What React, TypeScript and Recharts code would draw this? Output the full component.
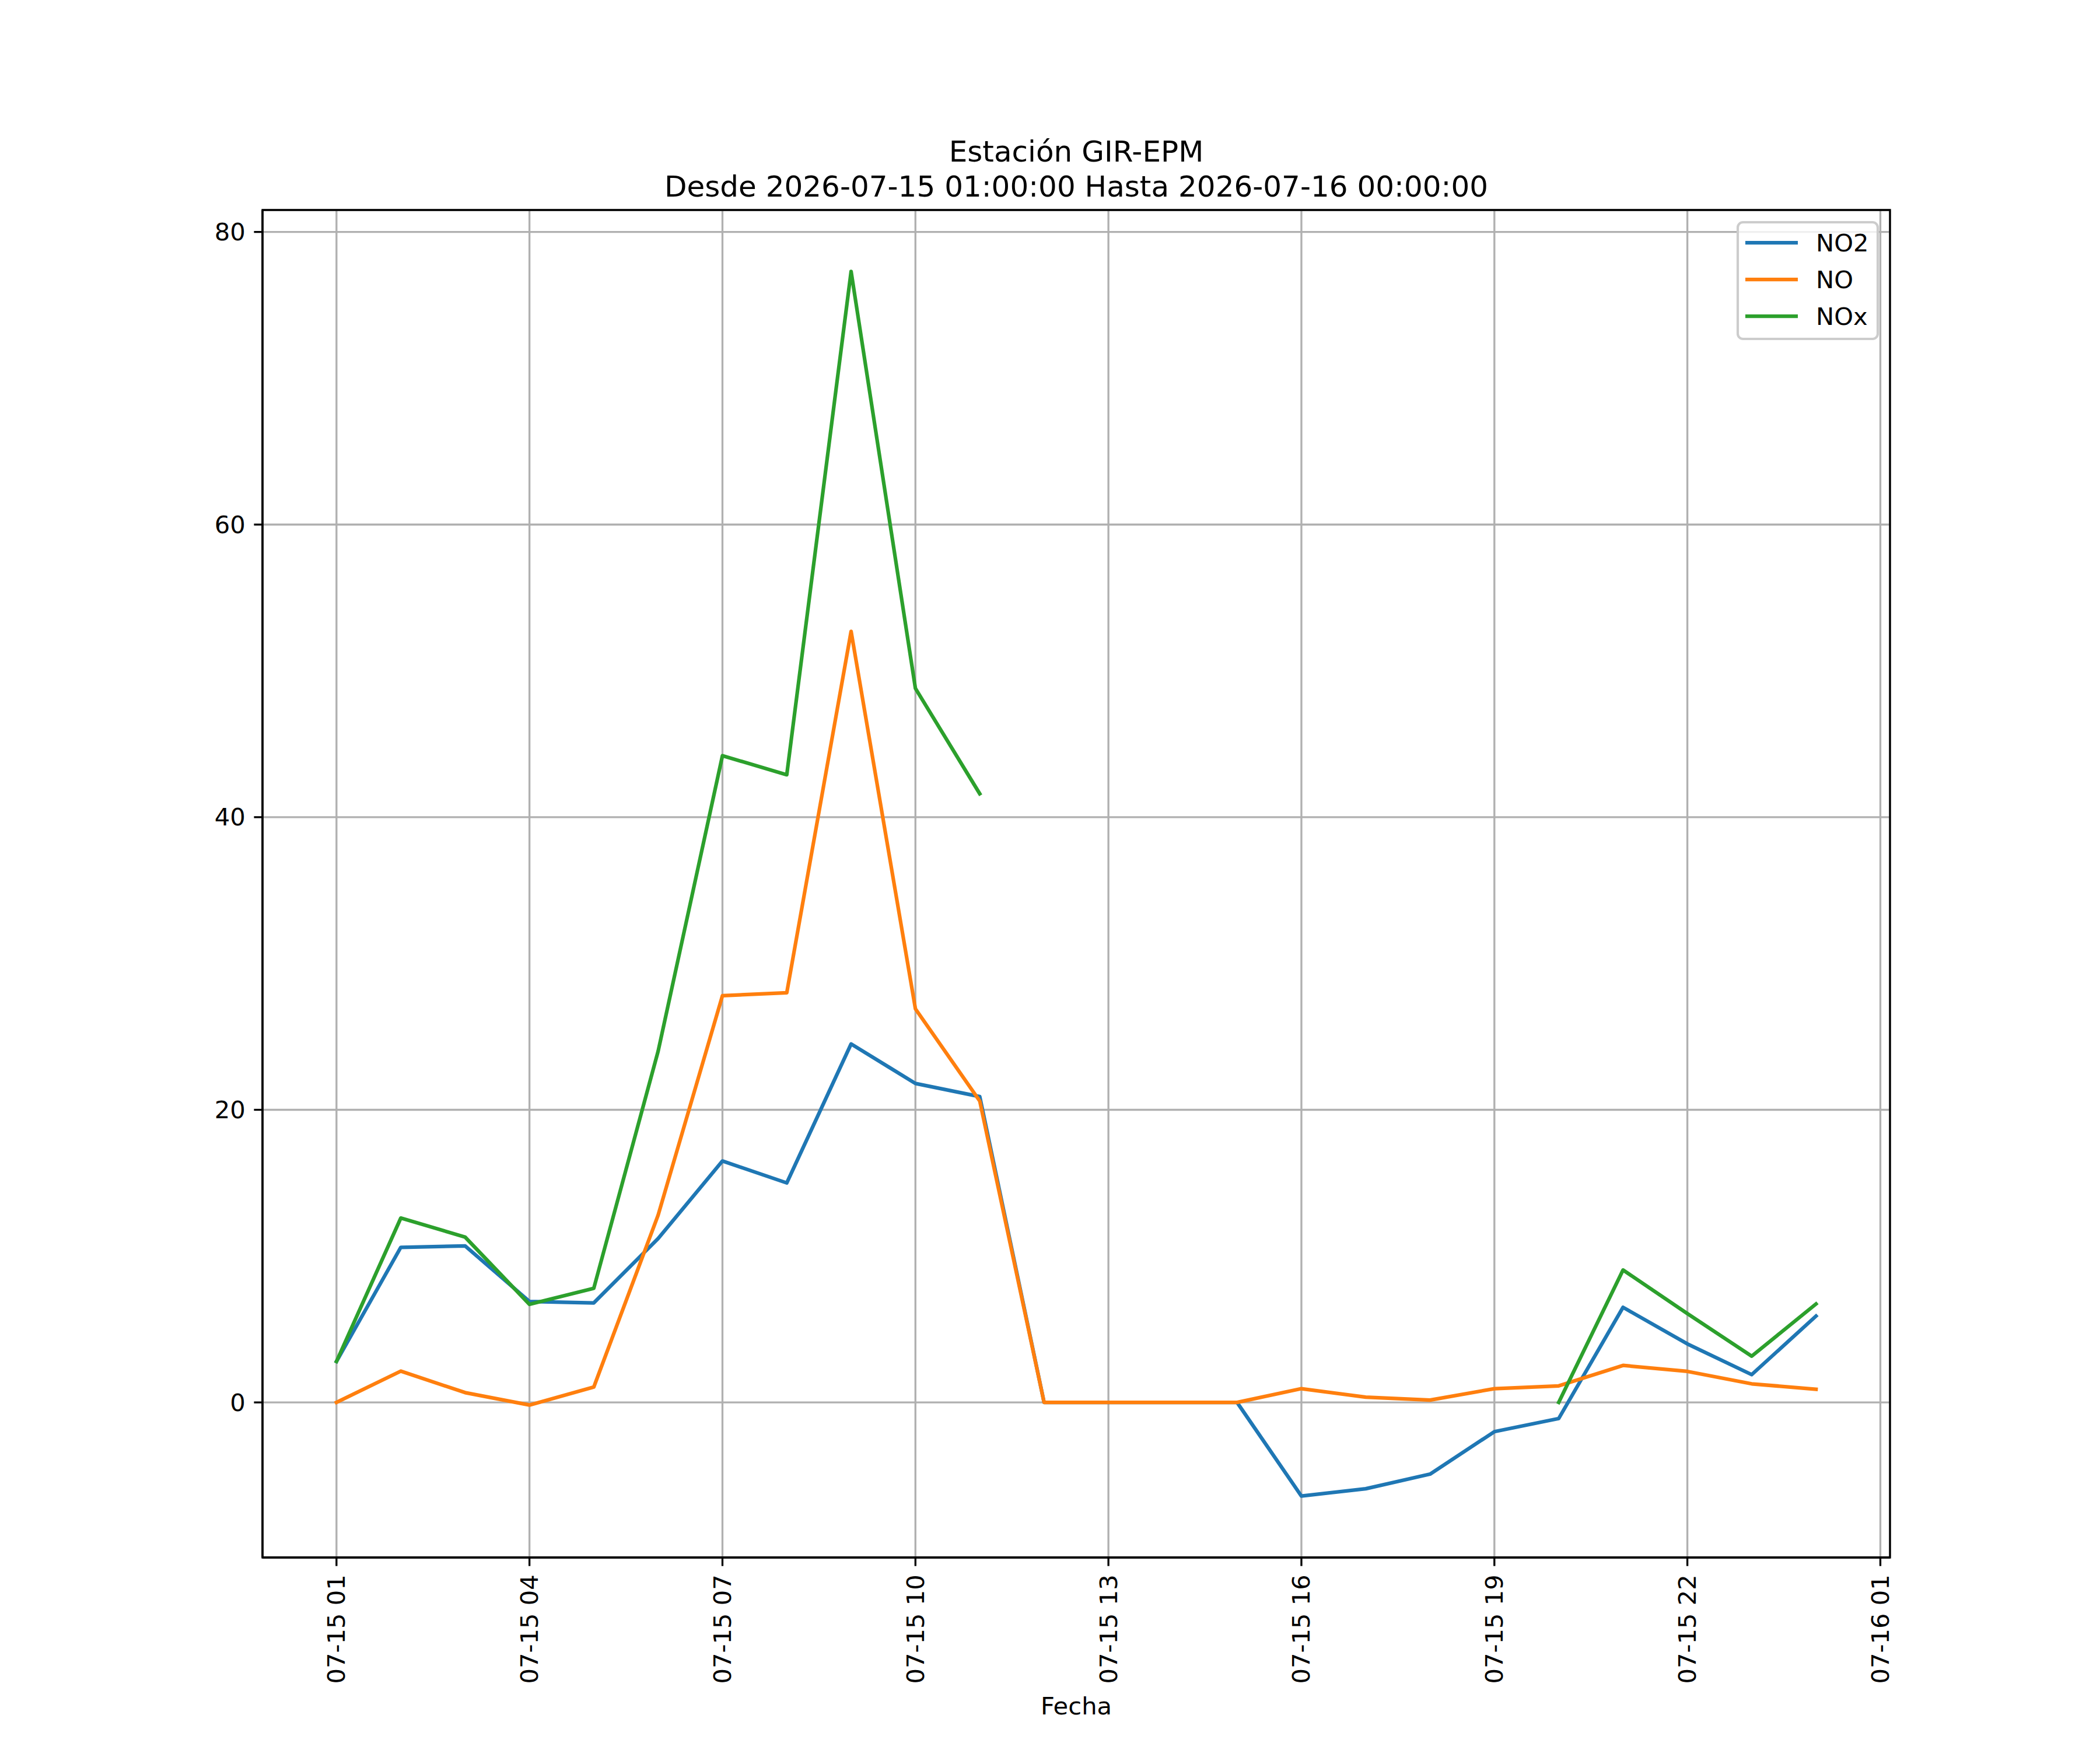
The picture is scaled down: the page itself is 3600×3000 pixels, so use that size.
import React from 'react';
import { LineChart, Line, XAxis, YAxis, CartesianGrid, ReferenceArea } from 'recharts';

// Hours after 2026-07-15 01:00
const hours = [0, 1, 2, 3, 4, 5, 6, 7, 8, 9, 10, 11, 12, 13, 14, 15, 16, 17, 18, 19, 20, 21, 22, 23];
const no2 = [2.8, 10.6, 10.7, 6.9, 6.8, 11.2, 16.5, 15.0, 24.5, 21.8, 20.9, 0, 0, 0, 0, -6.4, -5.9, -4.9, -2.0, -1.1, 6.5, 4.0, 1.9, 5.9];
const no = [0, 2.14, 0.67, -0.18, 1.05, 12.8, 27.8, 28.0, 52.7, 26.9, 20.6, 0, 0, 0, 0, 0.94, 0.36, 0.16, 0.94, 1.13, 2.53, 2.12, 1.27, 0.9];
const nox: (number | null)[] = [2.8, 12.6, 11.3, 6.7, 7.8, 24.0, 44.2, 42.9, 77.3, 48.8, 41.6, null, null, null, null, null, null, null, null, 0, 9.05, 6.07, 3.16, 6.73];

const xTicks = [0, 3, 6, 9, 12, 15, 18, 21, 24];
const xTickLabels = ['07-15 01', '07-15 04', '07-15 07', '07-15 10', '07-15 13', '07-15 16', '07-15 19', '07-15 22', '07-16 01'];
const yTicks = [0, 20, 40, 60, 80];

const seriesNames = ['NO2', 'NO', 'NOx'];
const seriesColors = ['#1f77b4', '#ff7f0e', '#2ca02c'];

const titleLine1 = 'Estación GIR-EPM';
const titleLine2 = 'Desde 2026-07-15 01:00:00 Hasta 2026-07-16 00:00:00';
const xLabel = 'Fecha';

const X_DOMAIN: [number, number] = [-1.15, 24.15];
const Y_DOMAIN: [number, number] = [-10.6, 81.5];

const rows = hours.map((h, i) => ({ h, no2: no2[i], no: no[i], nox: nox[i] }));

const FONT = '"DejaVu Sans", sans-serif';
const FS = 41.67;
const LW = 6.25;
const SPINE = 3.33;

const XTick = (props: any) => {
  const { x, y, payload } = props;
  const idx = xTicks.indexOf(payload.value);
  const label = idx >= 0 ? xTickLabels[idx] : String(payload.value);
  return (
    <text
      transform={`translate(${x},${y}) rotate(-90)`}
      textAnchor="end"
      dominantBaseline="central"
      fontFamily={FONT}
      fontSize={FS}
      fill="#000"
    >
      {label}
    </text>
  );
};

const YTick = (props: any) => {
  const { x, y, payload } = props;
  return (
    <text x={x} y={y} textAnchor="end" dominantBaseline="central" fontFamily={FONT} fontSize={FS} fill="#000">
      {payload.value}
    </text>
  );
};

export default function App() {
  return (
    <div style={{ position: 'relative', width: 3600, height: 3000, background: '#fff', fontFamily: FONT }}>
      <style>{'body{margin:0;background:#fff}'}</style>
      <LineChart width={3600} height={3000} data={rows} margin={{ top: 360, right: 360, bottom: 0, left: 0 }}>
        <CartesianGrid stroke="#b0b0b0" strokeWidth={SPINE} />
        <XAxis
          dataKey="h"
          type="number"
          domain={X_DOMAIN}
          ticks={xTicks}
          interval={0}
          allowDataOverflow
          height={330}
          tick={XTick}
          tickSize={14.6}
          tickMargin={14.6}
          tickLine={{ stroke: '#000', strokeWidth: SPINE }}
          axisLine={{ stroke: '#000', strokeWidth: SPINE }}
        />
        <YAxis
          type="number"
          domain={Y_DOMAIN}
          ticks={yTicks}
          interval={0}
          allowDataOverflow
          width={450}
          tick={YTick}
          tickSize={14.6}
          tickMargin={14.6}
          tickLine={{ stroke: '#000', strokeWidth: SPINE }}
          axisLine={{ stroke: '#000', strokeWidth: SPINE }}
        />
        <Line type="linear" dataKey="no2" stroke={seriesColors[0]} strokeWidth={LW} dot={false} activeDot={false} isAnimationActive={false} strokeLinejoin="round" strokeLinecap="square" />
        <Line type="linear" dataKey="no" stroke={seriesColors[1]} strokeWidth={LW} dot={false} activeDot={false} isAnimationActive={false} strokeLinejoin="round" strokeLinecap="square" />
        <Line type="linear" dataKey="nox" stroke={seriesColors[2]} strokeWidth={LW} dot={false} activeDot={false} isAnimationActive={false} strokeLinejoin="round" strokeLinecap="square" />
        <ReferenceArea x1={X_DOMAIN[0]} x2={X_DOMAIN[1]} y1={Y_DOMAIN[0]} y2={Y_DOMAIN[1]} fill="none" fillOpacity={0} stroke="#000" strokeWidth={SPINE} strokeOpacity={1} />
      </LineChart>
      <svg width={3600} height={3000} style={{ position: 'absolute', left: 0, top: 0, pointerEvents: 'none' }}>
        <text x={1845} y={277} textAnchor="middle" fontFamily={FONT} fontSize={50} fill="#000">{titleLine1}</text>
        <text x={1845} y={337} textAnchor="middle" fontFamily={FONT} fontSize={50} fill="#000">{titleLine2}</text>
        <text x={1845} y={2939} textAnchor="middle" fontFamily={FONT} fontSize={FS} fill="#000">{xLabel}</text>
        <rect x={2979} y={381} width={240} height={200} rx={9} ry={9} fill="#fff" fillOpacity={0.8} stroke="#cccccc" strokeWidth={4.17} />
        {seriesNames.map((n, i) => (
          <g key={n}>
            <line x1={2992} x2={3082} y1={416 + i * 63} y2={416 + i * 63} stroke={seriesColors[i]} strokeWidth={LW} />
            <text x={3113} y={416 + i * 63} dominantBaseline="central" fontFamily={FONT} fontSize={FS} fill="#000">{n}</text>
          </g>
        ))}
      </svg>
    </div>
  );
}
